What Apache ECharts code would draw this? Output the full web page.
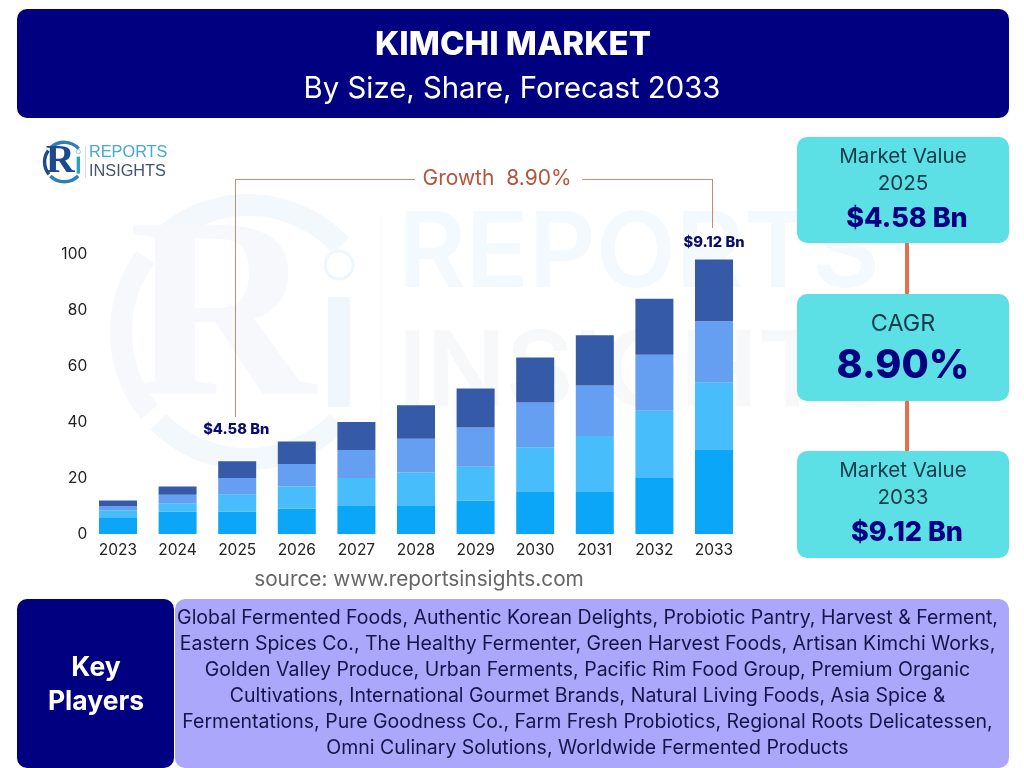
<!DOCTYPE html>
<html lang="en">
<head>
<meta charset="UTF-8">
<title>Kimchi Market</title>
<script src="https://cdn.jsdelivr.net/npm/echarts@6/dist/echarts.min.js"></script>
<style>
html,body{margin:0;padding:0;background:#fff;}
#chart{width:1024px;height:768px;}
</style>
</head>
<body>
<div id="chart"></div>
<script>
var years = ['2023','2024','2025','2026','2027','2028','2029','2030','2031','2032','2033'];
var layer1 = [6, 8, 8, 9, 10, 10, 12, 15, 15, 20, 30];
var layer2 = [2.5, 3, 6, 8, 10, 12, 12, 16, 20, 24, 24];
var layer3 = [1.5, 3, 6, 8, 10, 12, 14, 16, 18, 20, 22];
var layer4 = [2, 3, 6, 8, 10, 12, 14, 16, 18, 20, 22];
var layerColors = ['#0ca6f9', '#47bdfc', '#649ff2', '#355aa8'];
var yTicks = [0, 20, 40, 60, 80, 100];
var players = [
  'Global Fermented Foods, Authentic Korean Delights, Probiotic Pantry, Harvest & Ferment,',
  'Eastern Spices Co., The Healthy Fermenter, Green Harvest Foods, Artisan Kimchi Works,',
  'Golden Valley Produce, Urban Ferments, Pacific Rim Food Group, Premium Organic',
  'Cultivations, International Gourmet Brands, Natural Living Foods, Asia Spice &',
  'Fermentations, Pure Goodness Co., Farm Fresh Probiotics, Regional Roots Delicatessen,',
  'Omni Culinary Solutions, Worldwide Fermented Products'
];

var FONT = 'Inter, "Noto Sans", sans-serif';
var NAVY = '#000080';
var chart = echarts.init(document.getElementById('chart'), null, {renderer: 'canvas'});

function box(x, y, w, h, r, fill, z) {
  return {type: 'rect', z: z || 1, shape: {x: x, y: y, width: w, height: h, r: r}, style: {fill: fill}};
}
function label(x, y, text, size, weight, color, align) {
  return {type: 'text', z: 5, x: x, y: y, style: {
    text: text, font: weight + ' ' + size + 'px ' + FONT, fill: color,
    align: align || 'center', verticalAlign: 'middle'
  }};
}
function seg(x1, y1, x2, y2, color, w) {
  return {type: 'line', z: 3, shape: {x1: x1, y1: y1, x2: x2, y2: y2}, style: {stroke: color, lineWidth: w}};
}
function arc(cx, cy, r, a0, a1, color, w, z) {
  return {type: 'arc', z: z, shape: {cx: cx, cy: cy, r: r, startAngle: a0 * Math.PI / 180, endAngle: a1 * Math.PI / 180, clockwise: true},
    style: {stroke: color, fill: 'none', lineWidth: w, lineCap: 'butt'}};
}
// the R-i mark, used for the small logo and for the pale watermark
function mark(cx, cy, s, c1, c2, c3, z) {
  var ax = cx + 8 * s;
  return [
    arc(ax, cy, 127 * s, 228, 317, c2, 22 * s, z),
    arc(ax, cy, 127 * s, 141, 216, c1, 22 * s, z),
    arc(ax, cy, 127 * s, 45, 135, c2, 22 * s, z),
    {type: 'text', z: z, x: cx - 18 * s, y: cy - 5 * s, style: {
      text: 'R', font: 'bold ' + (258 * s) + 'px "Liberation Serif", serif', fill: c1, align: 'center', verticalAlign: 'middle'
    }},
    box(cx + 88 * s, cy - 35 * s, 22 * s, 110 * s, 0, c3, z),
    {type: 'circle', z: z, shape: {cx: cx + 99 * s, cy: cy - 67 * s, r: 14 * s}, style: {fill: 'none', stroke: c3, lineWidth: 3 * s}}
  ];
}

var graphics = [
  box(17, 9, 992, 109, 10, NAVY),
  label(513, 45.5, 'KIMCHI MARKET', 33, 800, '#fff'),
  label(512, 89.5, 'By Size, Share, Forecast 2033', 29.3, 400, '#fff'),

  label(419, 580, 'source: www.reportsinsights.com', 20.8, 400, '#666'),

  seg(235.5, 417, 235.5, 179.5, '#c98a78', 1),
  seg(235, 179.5, 415, 179.5, '#c98a78', 1),
  seg(582, 179.5, 712.5, 179.5, '#c98a78', 1),
  seg(712.5, 179, 712.5, 228, '#c98a78', 1),
  label(497, 179, 'Growth  8.90%', 21, 400, '#b5533c'),

  seg(907, 243, 907, 294, '#e0714f', 4),
  seg(907, 401, 907, 451, '#e0714f', 4),
  box(797, 137, 212, 106, 10, '#5ce0e6'),
  box(797, 294, 212, 107, 10, '#5ce0e6'),
  box(797, 451, 212, 107, 10, '#5ce0e6'),
  label(903, 157, 'Market Value', 20.6, 400, '#123c4a'),
  label(903, 184, '2025', 20.6, 400, '#123c4a'),
  label(907, 219, '$4.58 Bn', 27, 800, NAVY),
  label(903, 324, 'CAGR', 23.4, 400, '#123c4a'),
  label(903, 366, '8.90%', 39.5, 800, NAVY),
  label(903, 471, 'Market Value', 20.6, 400, '#123c4a'),
  label(903, 498, '2033', 20.6, 400, '#123c4a'),
  label(907, 533, '$9.12 Bn', 27, 800, NAVY),

  box(175, 599, 834, 169, 10, '#aba8fb'),
  box(17, 599, 157, 169, 10, NAVY, 2),
  label(96, 668, 'Key', 26.5, 700, '#fff'),
  label(96, 702, 'Players', 26.5, 700, '#fff'),

  // logo words
  {type: 'text', z: 5, x: 89, y: 153, style: {text: 'REPORTS', font: '16.3px "Liberation Sans", sans-serif', fill: '#45a8d0', align: 'left', verticalAlign: 'middle'}},
  {type: 'text', z: 5, x: 89, y: 172, style: {text: 'INSIGHTS', font: '16.3px "Liberation Sans", sans-serif', fill: '#44546f', align: 'left', verticalAlign: 'middle'}},
  seg(85.5, 146, 85.5, 178, '#d5dde6', 1),

  // watermark words
  {type: 'text', z: 0, x: 398, y: 256, style: {text: 'REPORTS', font: '600 104px ' + FONT, fill: '#f4f9fd', align: 'left', verticalAlign: 'middle'}},
  {type: 'text', z: 0, x: 398, y: 375, style: {text: 'INSIGHTS', font: '600 104px ' + FONT, fill: '#f7f8fa', align: 'left', verticalAlign: 'middle'}},
  seg(381, 215, 381, 440, '#f8fafc', 1)
];
graphics = graphics.concat(mark(240, 332, 1, '#f6f8fc', '#f3f8fc', '#f0f7fc', 0));
graphics = graphics.concat(mark(63, 162, 0.155, '#1d4a8e', '#2f7fb5', '#2f9fc4', 5));
players.forEach(function (line, i) {
  graphics.push(label(587.5, 618 + i * 26.1, line, 19.5, 400, '#15154a'));
});

// top layer carries the two value call-outs
var topData = layer4.map(function (v, i) {
  if (years[i] === '2025') return {value: v, label: {show: true, formatter: '$4.58 Bn', distance: 24, offset: [-1, 0]}};
  if (years[i] === '2033') return {value: v, label: {show: true, formatter: '$9.12 Bn', distance: 10}};
  return v;
});

var barWidth = 38;
var option = {
  animation: false,
  backgroundColor: '#fff',
  textStyle: {fontFamily: FONT},
  graphic: {elements: graphics},
  grid: {left: 88.2, top: 254, width: 655.6, height: 280, containLabel: false},
  xAxis: {
    type: 'category', data: years,
    axisLine: {show: false}, axisTick: {show: false},
    axisLabel: {color: '#222', fontSize: 15.5, margin: 8, interval: 0}
  },
  yAxis: {
    type: 'value', min: yTicks[0], max: yTicks[yTicks.length - 1], interval: 20,
    axisLine: {show: false}, axisTick: {show: false}, splitLine: {show: false},
    axisLabel: {color: '#222', fontSize: 15.5, margin: 1, padding: [4, 0, 0, 0]}
  },
  series: [
    {type: 'bar', stack: 'm', barWidth: barWidth, data: layer1, itemStyle: {color: layerColors[0]}},
    {type: 'bar', stack: 'm', barWidth: barWidth, data: layer2, itemStyle: {color: layerColors[1]}},
    {type: 'bar', stack: 'm', barWidth: barWidth, data: layer3, itemStyle: {color: layerColors[2]}},
    {type: 'bar', stack: 'm', barWidth: barWidth, data: topData, itemStyle: {color: layerColors[3]},
      label: {show: false, position: 'top', color: '#0b0b6b', fontWeight: 800, fontSize: 14.7}}
  ]
};
chart.setOption(option);
</script>
</body>
</html>
